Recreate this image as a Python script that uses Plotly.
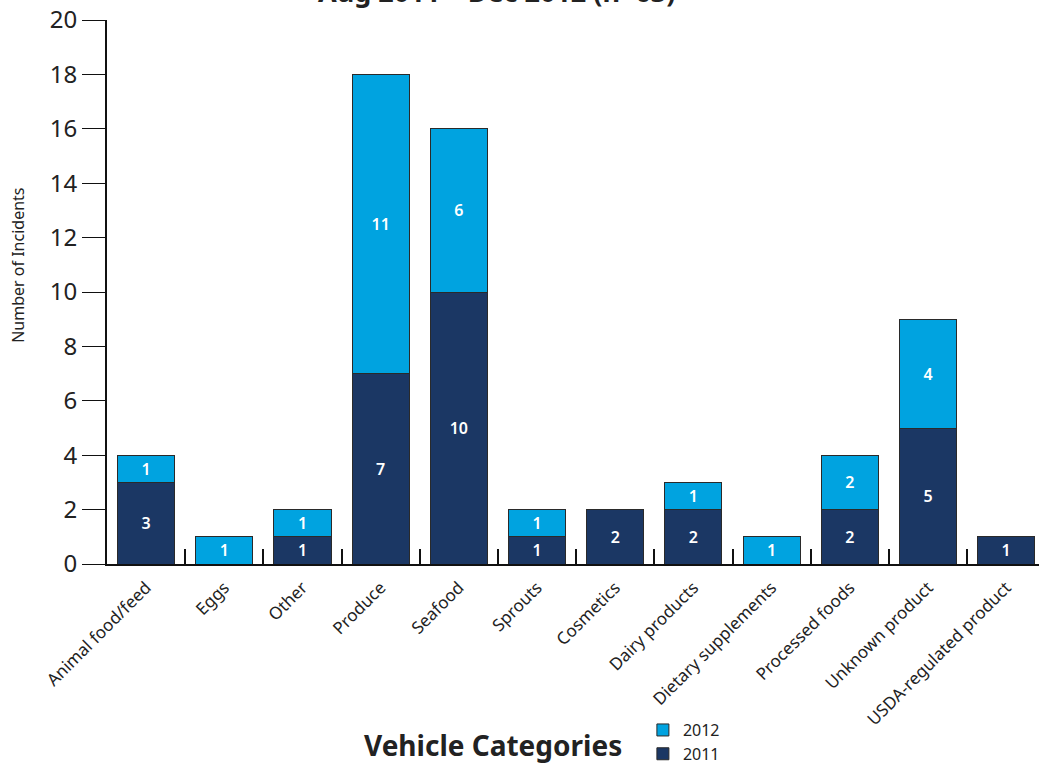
import plotly.graph_objects as go

categories = ["Animal food/feed", "Eggs", "Other", "Produce", "Seafood", "Sprouts",
              "Cosmetics", "Dairy products", "Dietary supplements", "Processed foods",
              "Unknown product", "USDA-regulated product"]
y2011 = [3, None, 1, 7, 10, 1, 2, 2, None, 2, 5, 1]
y2012 = [1, 1, 1, 11, 6, 1, None, 1, 1, 2, 4, None]
y_ticks = [0, 2, 4, 6, 8, 10, 12, 14, 16, 18, 20]
title_text = "Aug 2011 \u2013 Dec 2012 (n=63)"

FONT = "Noto Sans"
C2011 = "#1B3764"
C2012 = "#00A3E0"
EDGE = "#2a2a2a"

def labels(vals):
    return [("" if v is None else str(v)) for v in vals]

fig = go.Figure()
fig.add_trace(go.Bar(x=categories, y=y2011, name="2011", text=labels(y2011),
                     marker=dict(color=C2011, line=dict(color=EDGE, width=1)),
                     textposition="inside", insidetextanchor="middle", textangle=0,
                     textfont=dict(color="white", size=16, family=FONT, weight=600),
                     constraintext="none"))
fig.add_trace(go.Bar(x=categories, y=y2012, name="2012", text=labels(y2012),
                     marker=dict(color=C2012, line=dict(color=EDGE, width=1)),
                     textposition="inside", insidetextanchor="middle", textangle=0,
                     textfont=dict(color="white", size=16, family=FONT, weight=600),
                     constraintext="none"))

fig.update_layout(
    width=1039, height=765,
    margin=dict(l=107, r=0, t=20, b=201, pad=0, autoexpand=False),
    barmode="stack", bargap=0.27,
    plot_bgcolor="white", paper_bgcolor="white",
    font=dict(family=FONT, color="#222"),
    showlegend=True,
    legend=dict(traceorder="reversed", x=0.575, y=-0.274, xanchor="left", yanchor="top",
                font=dict(size=16, family=FONT), itemwidth=30, tracegroupgap=0,
                bgcolor="rgba(0,0,0,0)"),
    uniformtext=dict(mode=False),
)
fig.update_xaxes(range=[-0.5, 11.42], showline=True, linecolor="#111", linewidth=2,
                 ticks="inside", tickson="boundaries", ticklen=15, tickwidth=1.5,
                 tickcolor="#111", tickangle=-45, tickfont=dict(size=17, family=FONT),
                 ticklabelstandoff=5, automargin=False,
                 showgrid=False, zeroline=False)
fig.update_yaxes(range=[0, 20], tickvals=y_ticks, showline=True, linecolor="#111",
                 linewidth=2, ticks="outside", ticklen=23, tickwidth=1.2, tickcolor="#111",
                 tickfont=dict(size=24, family=FONT), showgrid=False, zeroline=False,
                 automargin=False)

fig.add_annotation(text="<b>" + title_text + "</b>", xref="paper", yref="paper",
                   x=0.418, y=1.052, xanchor="center", yanchor="middle",
                   showarrow=False, font=dict(size=27, family=FONT, color="#222"))
fig.add_annotation(text="<b>Vehicle Categories</b>", xref="paper", yref="paper",
                   x=0.414, y=-0.333, xanchor="center", yanchor="middle",
                   showarrow=False, font=dict(size=28, family=FONT, color="#222"))
fig.add_annotation(text="Number of Incidents", xref="paper", yref="paper",
                   x=-0.0955, y=0.55, xanchor="center", yanchor="middle", textangle=-90,
                   showarrow=False, font=dict(size=16, family=FONT, color="#222"))

fig.write_html("out.html")
